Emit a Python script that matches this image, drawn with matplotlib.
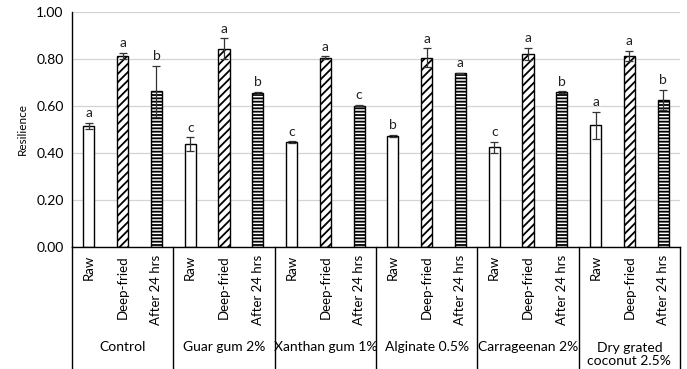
import numpy as np
import matplotlib
matplotlib.use("Agg")
import matplotlib.pyplot as plt
from matplotlib.transforms import blended_transform_factory

plt.rcParams['font.family'] = ['Lato', 'DejaVu Sans']
plt.rcParams['hatch.linewidth'] = 1.3

# Resilience of samples per treatment stage
groups = ['Control', 'Guar gum 2%', 'Xanthan gum 1%', 'Alginate 0.5%',
          'Carrageenan 2%', 'Dry grated\ncoconut 2.5%']
stages = ['Raw', 'Deep-fried', 'After 24 hrs']

raw = [0.515, 0.437, 0.446, 0.472, 0.423, 0.517]
raw_err = [0.014, 0.029, 0.003, 0.004, 0.025, 0.057]
fried = [0.812, 0.843, 0.805, 0.805, 0.822, 0.812]
fried_err = [0.014, 0.045, 0.006, 0.040, 0.026, 0.022]
after = [0.662, 0.655, 0.601, 0.738, 0.658, 0.624]
after_err = [0.110, 0.004, 0.002, 0.002, 0.004, 0.043]

raw_sig = ['a', 'c', 'c', 'b', 'c', 'a']
fried_sig = ['a', 'a', 'a', 'a', 'a', 'a']
after_sig = ['b', 'b', 'c', 'a', 'b', 'b']

fig = plt.figure(figsize=(6.87, 3.69), dpi=100)
ax = fig.add_axes([0.1048, 0.3314, 0.8850, 0.6361])

x = np.arange(len(groups))
step = 1 / 3
width = 0.11
series = [
    (raw, raw_err, raw_sig, -step, ''),
    (fried, fried_err, fried_sig, 0, '////'),
    (after, after_err, after_sig, step, '-----'),
]

for vals, errs, sigs, off, hatch in series:
    ax.bar(x + off, vals, width, color='white', edgecolor='black',
           linewidth=1.0, hatch=hatch, zorder=2)
    ax.errorbar(x + off, vals, yerr=errs, fmt='none', ecolor='#333333',
                elinewidth=0.9, capsize=3, capthick=0.9, zorder=3)
    for xi, v, e, s in zip(x + off, vals, errs, sigs):
        ax.text(xi, v + e + 0.016, s, ha='center', va='bottom',
                fontsize=10, color='#222222')

ax.set_xlim(-0.5, len(groups) - 0.5)
ax.set_ylim(0, 1.0)
ax.set_yticks(np.arange(0, 1.01, 0.2))
ax.set_yticklabels([f'{t:.2f}' for t in np.arange(0, 1.01, 0.2)])
ax.tick_params(axis='y', length=0, labelsize=10, pad=6)
ax.set_xticks([])
ax.yaxis.grid(True, color='#d4d4d4', linewidth=0.9)
ax.set_axisbelow(True)
ax.set_ylabel('Resilience', fontsize=8.5, labelpad=6)

for side in ['top', 'right']:
    ax.spines[side].set_visible(False)
ax.spines['left'].set_color('black')
ax.spines['bottom'].set_color('black')
ax.spines['left'].set_linewidth(1.0)
ax.spines['bottom'].set_linewidth(1.0)

# category table below the axis
trans = blended_transform_factory(ax.transData, ax.transAxes)
for b in np.arange(-0.5, len(groups), 1.0):
    ax.plot([b, b], [0, -0.53], color='black', linewidth=1.0,
            transform=trans, clip_on=False)

for gi, g in enumerate(groups):
    for si, st in enumerate(stages):
        ax.text(gi + (si - 1) * step, -0.035, st, rotation=90, ha='center',
                va='top', fontsize=9.5, transform=trans)
    ypos = -0.428 if '\n' not in g else -0.46
    ax.text(gi, ypos, g, ha='center', va='center', fontsize=10,
            linespacing=1.15, transform=trans)

fig.savefig('out.png', dpi=100)
